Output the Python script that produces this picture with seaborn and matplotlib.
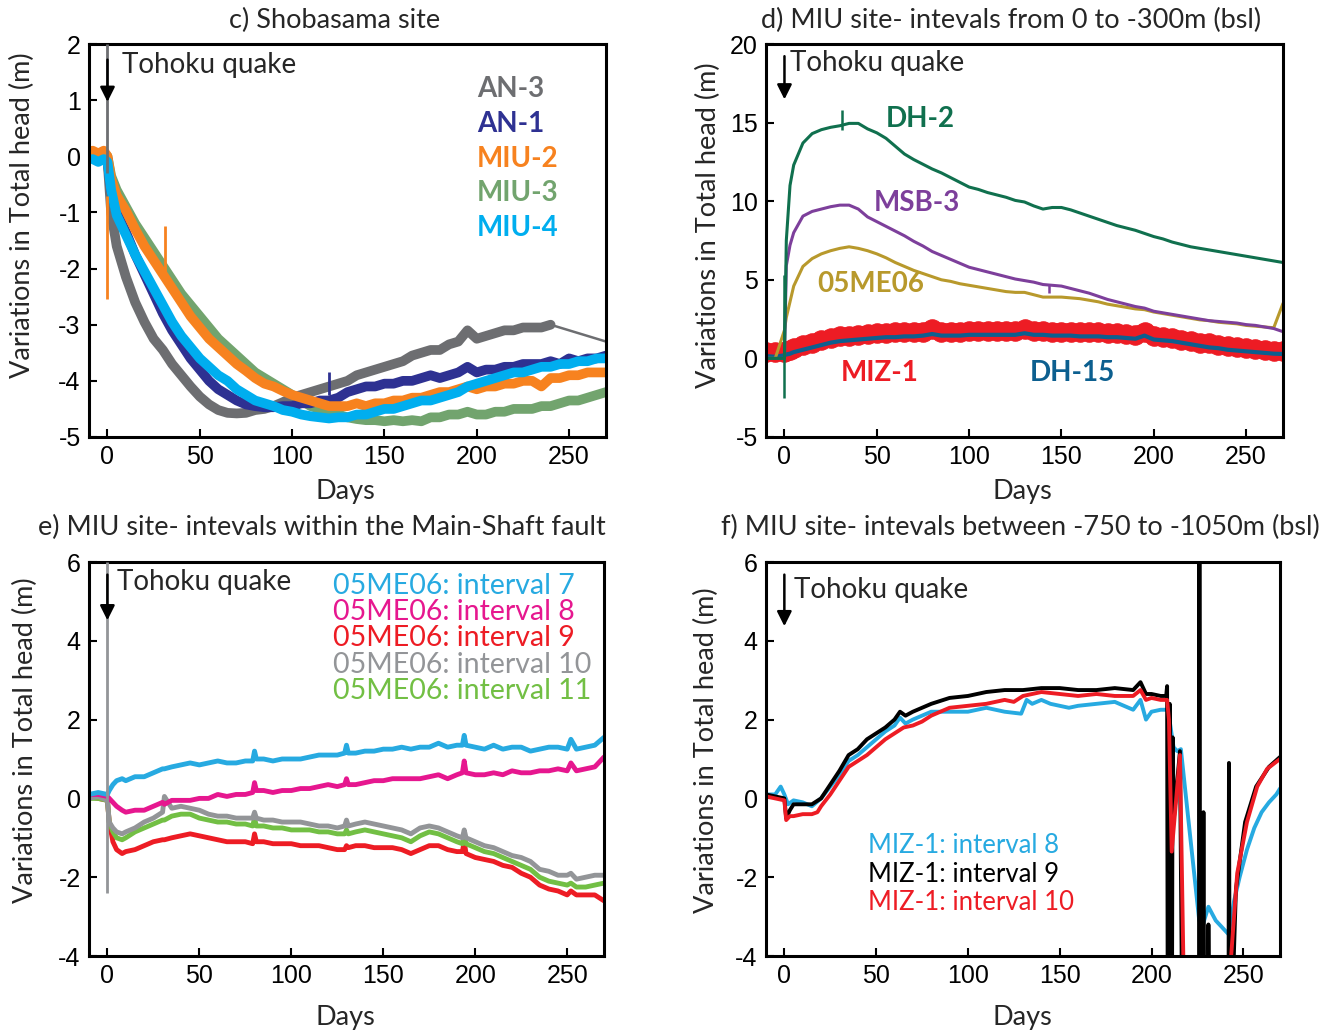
import matplotlib
matplotlib.use("Agg")
import matplotlib.pyplot as plt
import seaborn as sns

# ---------------- panel c) Shobasama site ----------------
c_days = [-8, -5, -2, 0, 2, 5, 10, 15, 20, 25, 30, 35, 40, 45, 50, 55, 60, 65, 70, 75, 80, 85, 90, 95,
          100, 105, 110, 115, 120, 125, 130, 135, 140, 145, 150, 155, 160, 165, 170, 175, 180, 185, 190,
          195, 200, 205, 210, 215, 220, 225, 230, 235, 240, 245, 250, 255, 260, 265, 270]
c_an3 = [0.05, -0.05, 0.0, -0.05, -1.0, -1.6, -2.15, -2.6, -2.95, -3.25, -3.45, -3.7, -3.9, -4.1, -4.28,
         -4.42, -4.52, -4.57, -4.58, -4.57, -4.52, -4.5, -4.45, -4.38, -4.3, -4.25, -4.2, -4.15, -4.1, -4.05,
         -4.0, -3.9, -3.85, -3.8, -3.75, -3.7, -3.65, -3.55, -3.5, -3.45, -3.45, -3.35, -3.3, -3.1, -3.25,
         -3.2, -3.15, -3.1, -3.1, -3.05, -3.05, -3.05, -3.0, -3.05, -3.1, -3.15, -3.2, -3.25, -3.3]
c_an3_gap_day = 240  # logger gap: thin straight line after this day
c_an1 = [0.0, -0.05, 0.0, -0.05, -0.6, -1.0, -1.35, -1.75, -2.1, -2.45, -2.8, -3.1, -3.35, -3.6, -3.8,
         -4.0, -4.15, -4.25, -4.35, -4.42, -4.45, -4.47, -4.47, -4.45, -4.45, -4.4, -4.4, -4.35, -4.35, -4.3,
         -4.2, -4.15, -4.1, -4.1, -4.05, -4.05, -4.0, -4.0, -3.95, -3.9, -3.95, -3.9, -3.85, -3.75, -3.85,
         -3.8, -3.8, -3.75, -3.75, -3.7, -3.7, -3.7, -3.65, -3.7, -3.6, -3.65, -3.6, -3.6, -3.55]
c_miu2 = [0.1, 0.05, 0.1, 0.0, -0.4, -0.7, -0.97, -1.3, -1.6, -1.85, -2.1, -2.35, -2.6, -2.85, -3.05,
          -3.25, -3.4, -3.55, -3.7, -3.82, -3.95, -4.05, -4.1, -4.18, -4.25, -4.3, -4.35, -4.4, -4.45, -4.45,
          -4.45, -4.4, -4.45, -4.4, -4.4, -4.35, -4.35, -4.3, -4.3, -4.25, -4.2, -4.2, -4.15, -4.1, -4.15,
          -4.1, -4.1, -4.05, -4.05, -4.0, -4.0, -4.1, -3.95, -3.95, -3.9, -3.9, -3.85, -3.85, -3.85]
c_miu3 = [0.05, 0.0, 0.05, 0.0, -0.35, -0.6, -0.9, -1.2, -1.45, -1.7, -1.95, -2.2, -2.45, -2.65, -2.85,
          -3.05, -3.25, -3.4, -3.55, -3.7, -3.85, -3.95, -4.05, -4.15, -4.25, -4.35, -4.45, -4.5, -4.55,
          -4.6, -4.65, -4.68, -4.7, -4.7, -4.72, -4.7, -4.72, -4.7, -4.72, -4.65, -4.65, -4.6, -4.6, -4.55,
          -4.6, -4.6, -4.55, -4.55, -4.5, -4.5, -4.5, -4.45, -4.45, -4.4, -4.35, -4.35, -4.3, -4.25, -4.2]
c_miu4 = [-0.05, -0.1, -0.05, -0.1, -0.6, -1.05, -1.4, -1.75, -2.05, -2.35, -2.65, -2.95, -3.2, -3.4,
          -3.6, -3.75, -3.9, -4.0, -4.15, -4.25, -4.35, -4.4, -4.45, -4.52, -4.55, -4.6, -4.63, -4.65, -4.67,
          -4.65, -4.65, -4.6, -4.6, -4.55, -4.5, -4.5, -4.45, -4.4, -4.35, -4.35, -4.3, -4.25, -4.2, -4.1,
          -4.05, -4.0, -3.95, -3.9, -3.85, -3.85, -3.8, -3.75, -3.75, -3.7, -3.7, -3.65, -3.65, -3.6, -3.6]
# short vertical glitches: (series, day, low, high)
c_spikes = [("AN-3", 0, -0.3, 2.0), ("MIU-2", 0, -2.55, -0.7), ("MIU-2", 31, -2.25, -1.25),
            ("AN-1", 120, -4.25, -3.85)]

# ---------------- panel d) 0 to -300 m ----------------
d_days = [-10, -5, 0, 1, 3, 5, 10, 15, 20, 25, 30, 35, 40, 45, 50, 55, 60, 65, 70, 75, 80, 85, 90, 95,
          100, 105, 110, 115, 120, 125, 130, 135, 140, 145, 150, 155, 160, 165, 170, 175, 180, 185, 190,
          195, 200, 205, 210, 215, 220, 225, 230, 235, 240, 245, 250, 255, 260, 265, 270]
d_dh2 = [0.0, 0.0, 0.0, 7.5, 11.0, 12.3, 13.7, 14.3, 14.55, 14.7, 14.8, 14.95, 14.95, 14.6, 14.35, 14.0,
         13.5, 13.0, 12.65, 12.35, 12.05, 11.8, 11.5, 11.2, 10.9, 10.75, 10.55, 10.4, 10.25, 10.05, 9.95,
         9.7, 9.5, 9.6, 9.6, 9.45, 9.25, 9.05, 8.85, 8.65, 8.45, 8.3, 8.15, 7.95, 7.75, 7.6, 7.4, 7.25,
         7.1, 7.0, 6.9, 6.8, 6.7, 6.6, 6.5, 6.4, 6.3, 6.2, 6.1]
d_msb3 = [0.0, 0.0, 0.0, 5.9, 7.2, 8.0, 9.05, 9.35, 9.5, 9.65, 9.75, 9.75, 9.5, 9.0, 8.7, 8.4, 8.1, 7.8,
          7.45, 7.15, 6.8, 6.55, 6.3, 6.05, 5.8, 5.65, 5.5, 5.35, 5.2, 5.05, 4.95, 4.85, 4.7, 4.65, 4.6,
          4.45, 4.3, 4.15, 3.95, 3.75, 3.6, 3.45, 3.3, 3.2, 3.0, 2.9, 2.8, 2.7, 2.6, 2.5, 2.4, 2.35, 2.3,
          2.25, 2.15, 2.1, 2.0, 1.9, 1.7]
d_05me06 = [0.0, 0.0, 1.8, 2.6, 3.6, 4.6, 5.85, 6.35, 6.65, 6.85, 7.0, 7.1, 7.0, 6.85, 6.65, 6.4, 6.1,
            5.85, 5.6, 5.4, 5.2, 5.0, 4.9, 4.75, 4.65, 4.55, 4.45, 4.35, 4.25, 4.2, 4.2, 4.05, 3.9, 3.9,
            3.9, 3.85, 3.8, 3.7, 3.6, 3.45, 3.35, 3.25, 3.15, 3.1, 2.95, 2.85, 2.75, 2.65, 2.55, 2.45, 2.4,
            2.3, 2.25, 2.2, 2.1, 2.05, 2.0, 1.95, 3.5]
d_miz1 = [0.4, 0.4, 0.4, 0.45, 0.55, 0.65, 0.85, 1.0, 1.15, 1.3, 1.4, 1.45, 1.5, 1.55, 1.6, 1.6, 1.65,
          1.65, 1.7, 1.7, 1.85, 1.7, 1.7, 1.7, 1.75, 1.75, 1.75, 1.75, 1.75, 1.75, 1.85, 1.75, 1.75, 1.7,
          1.7, 1.7, 1.65, 1.65, 1.65, 1.6, 1.6, 1.55, 1.5, 1.7, 1.45, 1.35, 1.3, 1.2, 1.1, 1.0, 0.95, 0.85,
          0.8, 0.7, 0.65, 0.6, 0.55, 0.5, 0.45]
d_dh15 = [0.15, 0.1, 0.2, 0.25, 0.3, 0.4, 0.55, 0.7, 0.85, 1.0, 1.1, 1.15, 1.2, 1.25, 1.3, 1.35, 1.35, 1.4,
          1.4, 1.45, 1.55, 1.45, 1.45, 1.45, 1.5, 1.5, 1.5, 1.5, 1.5, 1.5, 1.6, 1.5, 1.5, 1.45, 1.45, 1.45,
          1.4, 1.4, 1.4, 1.35, 1.35, 1.3, 1.25, 1.45, 1.2, 1.15, 1.1, 1.0, 0.9, 0.8, 0.7, 0.65, 0.55, 0.5,
          0.45, 0.4, 0.35, 0.3, 0.28]
d_spikes = [("DH-2", 0, -2.5, 5.3), ("DH-2", 31, 14.5, 15.8), ("MSB-3", 143, 4.15, 4.75)]

# ---------------- panel e) Main-Shaft fault ----------------
e_days = [-10, -5, 0, 1, 3, 5, 8, 10, 15, 20, 25, 30, 31, 35, 40, 45, 50, 55, 60, 65, 70, 75, 79, 80, 81,
          85, 90, 95, 100, 105, 110, 115, 120, 125, 129, 130, 131, 135, 140, 145, 150, 155, 160, 165, 170,
          175, 180, 185, 190, 193, 194, 195, 200, 205, 210, 215, 220, 225, 230, 235, 240, 245, 250, 252,
          255, 260, 265, 270]
e_int7 = [0.1, 0.15, 0.1, 0.2, 0.35, 0.45, 0.5, 0.45, 0.55, 0.55, 0.65, 0.75, 0.75, 0.8, 0.85, 0.9, 0.85,
          0.9, 0.95, 0.9, 0.9, 0.95, 0.95, 1.2, 1.0, 1.0, 0.95, 1.0, 1.0, 1.0, 1.05, 1.1, 1.1, 1.1, 1.15,
          1.35, 1.15, 1.15, 1.2, 1.2, 1.25, 1.25, 1.3, 1.25, 1.3, 1.3, 1.4, 1.3, 1.35, 1.35, 1.6, 1.35, 1.3,
          1.25, 1.35, 1.25, 1.3, 1.3, 1.2, 1.25, 1.3, 1.3, 1.25, 1.5, 1.25, 1.3, 1.35, 1.55]
e_int8 = [0.1, 0.1, 0.05, 0.0, -0.1, -0.2, -0.3, -0.35, -0.3, -0.3, -0.2, -0.1, -0.15, -0.05, -0.05, -0.05,
          0.0, 0.0, 0.1, 0.05, 0.1, 0.1, 0.15, 0.4, 0.2, 0.2, 0.15, 0.2, 0.2, 0.25, 0.25, 0.3, 0.35, 0.3,
          0.35, 0.5, 0.35, 0.35, 0.4, 0.45, 0.45, 0.5, 0.5, 0.5, 0.5, 0.55, 0.6, 0.5, 0.6, 0.65, 0.95, 0.65,
          0.6, 0.6, 0.65, 0.6, 0.7, 0.65, 0.65, 0.7, 0.7, 0.75, 0.7, 0.9, 0.7, 0.75, 0.8, 1.05]
e_int9 = [0.05, 0.0, -0.05, -0.6, -1.1, -1.3, -1.4, -1.35, -1.3, -1.2, -1.1, -1.05, -1.05, -1.0, -0.95,
          -0.9, -0.95, -1.0, -1.05, -1.1, -1.1, -1.1, -1.15, -0.9, -1.1, -1.1, -1.15, -1.15, -1.15, -1.2,
          -1.2, -1.2, -1.25, -1.3, -1.3, -1.2, -1.25, -1.2, -1.2, -1.25, -1.25, -1.25, -1.3, -1.4, -1.3,
          -1.2, -1.2, -1.3, -1.35, -1.35, -1.1, -1.4, -1.5, -1.55, -1.6, -1.7, -1.75, -1.9, -2.0, -2.2,
          -2.3, -2.35, -2.45, -2.35, -2.45, -2.45, -2.45, -2.6]
e_int10 = [0.0, 0.05, -0.05, -0.6, -0.75, -0.85, -0.9, -0.85, -0.75, -0.6, -0.5, -0.35, 0.05, -0.25, -0.2,
           -0.25, -0.3, -0.4, -0.45, -0.45, -0.5, -0.5, -0.5, -0.35, -0.5, -0.55, -0.55, -0.6, -0.6, -0.6,
           -0.65, -0.7, -0.7, -0.75, -0.7, -0.55, -0.7, -0.65, -0.6, -0.65, -0.7, -0.75, -0.8, -0.9, -0.75,
           -0.7, -0.75, -0.85, -0.95, -1.0, -0.8, -1.0, -1.1, -1.2, -1.25, -1.35, -1.45, -1.5, -1.6, -1.8,
           -1.85, -1.95, -1.95, -1.9, -2.05, -2.0, -1.95, -1.95]
e_int11 = [0.0, 0.0, -0.05, -0.6, -0.85, -1.0, -1.05, -1.0, -0.85, -0.75, -0.65, -0.55, -0.55, -0.45, -0.4,
           -0.4, -0.5, -0.55, -0.6, -0.6, -0.65, -0.65, -0.7, -0.5, -0.7, -0.7, -0.75, -0.75, -0.8, -0.8,
           -0.8, -0.85, -0.85, -0.9, -0.9, -0.8, -0.9, -0.85, -0.8, -0.85, -0.9, -0.95, -1.0, -1.1, -0.95,
           -0.85, -0.9, -1.0, -1.1, -1.15, -0.95, -1.15, -1.25, -1.35, -1.4, -1.5, -1.6, -1.7, -1.8, -2.0,
           -2.1, -2.15, -2.2, -2.15, -2.25, -2.25, -2.2, -2.15]
e_spikes = [("interval 10", 0, -2.4, 6.0)]

# ---------------- panel f) -750 to -1050 m ----------------
f_int8_days = [-10, -5, -2, 0, 2, 5, 10, 15, 20, 25, 30, 35, 40, 45, 50, 55, 60, 63, 66, 70, 75, 80, 90,
               100, 110, 120, 129, 132, 135, 140, 145, 150, 155, 160, 170, 180, 185, 190, 194, 197, 200,
               205, 209, 212, 214, 216, 220, 226, 228, 231, 235, 240, 242, 245, 248, 252, 256, 260, 264,
               268, 270]
f_int8 = [0.1, 0.1, 0.3, 0.1, -0.15, -0.05, -0.1, -0.2, 0.0, 0.3, 0.6, 0.95, 1.1, 1.3, 1.5, 1.7, 1.85, 2.05,
          1.9, 2.0, 2.1, 2.2, 2.2, 2.2, 2.3, 2.2, 2.15, 2.5, 2.4, 2.5, 2.4, 2.35, 2.3, 2.35, 2.4, 2.45, 2.35,
          2.25, 2.5, 2.0, 2.2, 2.25, 2.25, 1.3, 1.2, 1.25, -0.5, -3.1, -3.2, -2.75, -3.1, -3.35, -3.45,
          -2.6, -2.0, -1.3, -0.75, -0.35, -0.1, 0.1, 0.25]
f_int9_days = [-10, -5, 0, 1, 3, 5, 10, 15, 20, 25, 30, 35, 40, 45, 50, 55, 60, 63, 66, 70, 80, 90, 100,
               110, 120, 130, 140, 150, 160, 170, 180, 190, 194, 197, 200, 205, 208, 208.5, 208.8, 209.6,
               209.9, 210.3, 211.2, 211.5, 212.2, 215.5, 216.5, 226, 226.1, 226.3, 228, 228.3, 228.6,
               230.8, 231, 231.3, 242, 242.2, 242.5, 244.5, 246, 251, 257, 264, 270]
f_int9 = [0.1, 0.05, 0.0, -0.5, -0.3, -0.15, -0.15, -0.15, 0.0, 0.35, 0.7, 1.1, 1.25, 1.5, 1.65, 1.8, 2.0,
          2.2, 2.1, 2.2, 2.4, 2.55, 2.6, 2.7, 2.75, 2.75, 2.8, 2.8, 2.75, 2.75, 2.8, 2.75, 2.95, 2.65, 2.65,
          2.6, 2.6, 2.85, -4.5, -4.5, 2.4, -4.5, -4.5, 1.55, -0.5, 1.2, -4.5, -4.5, 6.5, -4.5, -4.5, -0.35,
          -4.5, -4.5, -3.2, -4.5, -4.5, 0.9, -4.5, -4.5, -2.3, -0.6, 0.3, 0.8, 1.05]
f_int10_days = [-10, -5, 0, 1, 3, 5, 10, 15, 18, 20, 25, 30, 35, 40, 45, 50, 55, 60, 65, 70, 75, 80, 85, 90,
                100, 110, 120, 125, 130, 140, 150, 160, 170, 180, 190, 194, 197, 200, 205, 208.5, 209.5,
                211, 215.5, 217.5, 242.6, 246.7, 252, 257.6, 263, 268, 270]
f_int10 = [0.05, 0.0, -0.05, -0.55, -0.45, -0.45, -0.4, -0.4, -0.35, -0.2, 0.1, 0.45, 0.8, 0.95, 1.1, 1.3,
           1.5, 1.65, 1.8, 1.85, 1.95, 2.1, 2.2, 2.3, 2.35, 2.4, 2.5, 2.45, 2.6, 2.7, 2.65, 2.6, 2.65, 2.6,
           2.6, 2.75, 2.5, 2.55, 2.5, 2.5, 2.0, -1.35, 1.1, -4.5, -4.5, -1.9, -0.6, 0.3, 0.75, 0.93, 1.0]

W, H = 1343, 1034
LABEL_FONT = ["Lato", "DejaVu Sans"]
TICK_FONT = ["Liberation Sans", "DejaVu Sans"]

sns.set_theme(style="white")
plt.rcParams["font.family"] = TICK_FONT
plt.rcParams["axes.unicode_minus"] = False


def px_axes(fig, left, top, right, bottom):
    return fig.add_axes([left / W, 1 - bottom / H, (right - left) / W, (bottom - top) / H])


def style_axes(ax, ylim, yticks):
    ax.set_xlim(-10, 270)
    ax.set_ylim(*ylim)
    ax.set_xticks([0, 50, 100, 150, 200, 250])
    ax.set_yticks(yticks)
    ax.tick_params(direction="in", length=6, width=1.5, labelsize=18, pad=6,
                   bottom=True, left=True, top=False, right=False, colors="black")
    for sp in ax.spines.values():
        sp.set_color("black")
        sp.set_linewidth(2.2)
    ax.set_xlabel("")
    ax.set_ylabel("")


def draw(ax, days, vals, color, lw, z=2, **kw):
    sns.lineplot(x=days, y=vals, ax=ax, color=color, linewidth=lw, estimator=None, sort=False,
                 zorder=z, legend=False, **kw)


def quake(ax, x_arrow, y_tail, y_head, x_text, y_text):
    ax.annotate("", xy=(x_arrow, y_head), xytext=(x_arrow, y_tail),
                arrowprops=dict(arrowstyle="-|>", color="black", lw=1.8, mutation_scale=22), zorder=10)
    ax.text(x_text, y_text, "Tohoku quake", fontsize=20, family=LABEL_FONT, va="center", ha="left",
            zorder=10)


fig = plt.figure(figsize=(W / 100, H / 100), dpi=100)

# ---- c ----
ax = px_axes(fig, 89, 44, 606, 437)
c_colors = {"AN-3": "#6d6e71", "AN-1": "#2e3192", "MIU-2": "#f7821f", "MIU-3": "#72a46e", "MIU-4": "#00aeef"}
c_series = {"AN-3": c_an3, "AN-1": c_an1, "MIU-2": c_miu2, "MIU-3": c_miu3, "MIU-4": c_miu4}
cut = c_days.index(c_an3_gap_day) + 1
for name in ["MIU-3", "AN-3", "AN-1", "MIU-2", "MIU-4"]:
    if name == "AN-3":
        draw(ax, c_days[:cut], c_an3[:cut], c_colors[name], 7)
        draw(ax, c_days[cut - 1:], c_an3[cut - 1:], c_colors[name], 1.8)
    else:
        draw(ax, c_days, c_series[name], c_colors[name], 7)
for name, day, lo, hi in c_spikes:
    ax.vlines(day, lo, hi, color=c_colors[name], lw=2, zorder=3)
style_axes(ax, (-5, 2), [-5, -4, -3, -2, -1, 0, 1, 2])
quake(ax, 0, 1.77, 0.92, 8, 1.62)
for i, name in enumerate(["AN-3", "AN-1", "MIU-2", "MIU-3", "MIU-4"]):
    ax.text(200, 1.2 - 0.62 * i, name, color=c_colors[name], fontsize=20, fontweight="bold",
            family=LABEL_FONT, va="center", ha="left")

# ---- d ----
ax = px_axes(fig, 766, 44, 1283, 437)
d_colors = {"DH-2": "#10704e", "MSB-3": "#7d3f9b", "05ME06": "#b8992c", "MIZ-1": "#ed1c24", "DH-15": "#0c5f8f"}
draw(ax, d_days, d_miz1, d_colors["MIZ-1"], 12, marker="o", markersize=14,
     markeredgecolor=d_colors["MIZ-1"])
draw(ax, d_days, d_dh15, d_colors["DH-15"], 3)
draw(ax, d_days, d_05me06, d_colors["05ME06"], 2.2)
draw(ax, d_days, d_msb3, d_colors["MSB-3"], 2.2)
draw(ax, d_days, d_dh2, d_colors["DH-2"], 2.2)
for name, day, lo, hi in d_spikes:
    ax.vlines(day, lo, hi, color=d_colors[name], lw=1.8, zorder=3)
style_axes(ax, (-5, 20), [-5, 0, 5, 10, 15, 20])
quake(ax, 0, 19.4, 16.3, 3, 18.8)
d_labels = [("DH-2", 55, 15.2), ("MSB-3", 48.5, 9.9), ("05ME06", 17.5, 4.75), ("MIZ-1", 30.5, -0.95),
            ("DH-15", 133, -0.95)]
for name, x, y in d_labels:
    ax.text(x, y, name, color=d_colors[name], fontsize=20, fontweight="bold", family=LABEL_FONT,
            va="center", ha="left")

# ---- e ----
ax = px_axes(fig, 89, 562, 604, 956)
e_colors = {"interval 7": "#27aae1", "interval 8": "#e6178f", "interval 9": "#ed1c24",
            "interval 10": "#939598", "interval 11": "#72bf44"}
e_series = {"interval 7": e_int7, "interval 8": e_int8, "interval 9": e_int9,
            "interval 10": e_int10, "interval 11": e_int11}
for name in ["interval 9", "interval 11", "interval 10", "interval 8", "interval 7"]:
    draw(ax, e_days, e_series[name], e_colors[name], 3.5)
for name, day, lo, hi in e_spikes:
    ax.vlines(day, lo, hi, color=e_colors[name], lw=2, zorder=3)
style_axes(ax, (-4, 6), [-4, -2, 0, 2, 4, 6])
quake(ax, 0, 5.75, 4.45, 5, 5.5)
for i, name in enumerate(["interval 7", "interval 8", "interval 9", "interval 10", "interval 11"]):
    ax.text(122.5, 5.39 - 0.665 * i, "05ME06: " + name, color=e_colors[name], fontsize=20.5,
            family=LABEL_FONT, va="center", ha="left")

# ---- f ----
ax = px_axes(fig, 766, 562, 1280, 956)
f_colors = {"interval 8": "#27aae1", "interval 9": "#000000", "interval 10": "#ed1c24"}
draw(ax, f_int8_days, f_int8, f_colors["interval 8"], 2.8)
draw(ax, f_int9_days, f_int9, f_colors["interval 9"], 2.8)
draw(ax, f_int10_days, f_int10, f_colors["interval 10"], 2.8)
style_axes(ax, (-4, 6), [-4, -2, 0, 2, 4, 6])
quake(ax, 0, 5.75, 4.3, 5, 5.3)
for i, name in enumerate(["interval 8", "interval 9", "interval 10"]):
    ax.text(45.5, -1.2 - 0.72 * i, "MIZ-1: " + name, color=f_colors[name], fontsize=18.5,
            family=LABEL_FONT, va="center", ha="left")

# titles, axis labels
titles = [("c) Shobasama site", 335, 20), ("d) MIU site- intevals from 0 to -300m (bsl)", 1011, 20),
          ("e) MIU site- intevals within the Main-Shaft fault", 322, 527),
          ("f) MIU site- intevals between -750 to -1050m (bsl)", 1020, 527)]
for txt, x, y in titles:
    fig.text(x / W, 1 - y / H, txt, fontsize=19.5, family=LABEL_FONT, ha="center", va="center")
for x, y in [(345, 492), (1022, 492), (345, 1017), (1022, 1017)]:
    fig.text(x / W, 1 - y / H, "Days", fontsize=19.5, family=LABEL_FONT, ha="center", va="center")
for x, y in [(22, 215), (708, 225), (25, 740), (706, 750)]:
    fig.text(x / W, 1 - y / H, "Variations in Total head (m)", fontsize=19.5, family=LABEL_FONT,
             ha="center", va="center", rotation=90)

fig.savefig("out.png", dpi=100)
